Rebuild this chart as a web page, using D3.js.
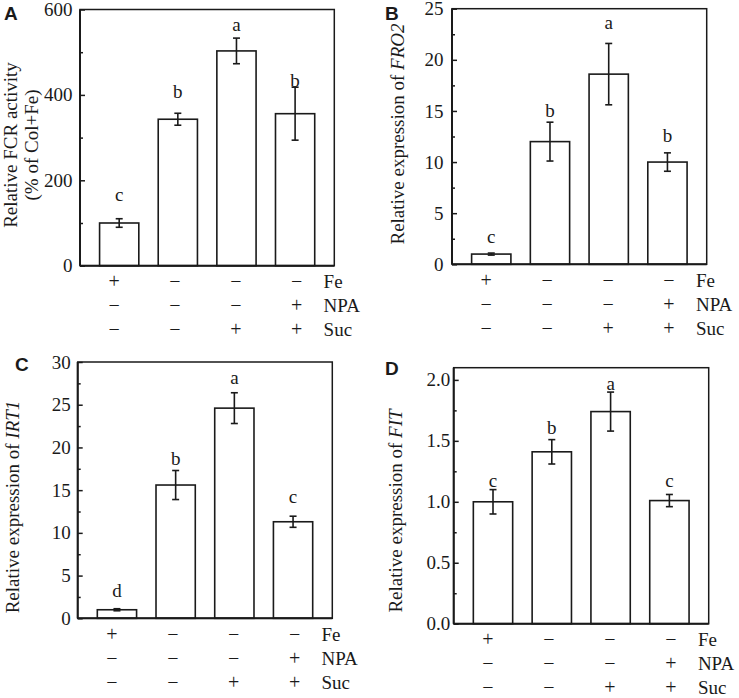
<!DOCTYPE html>
<html>
<head>
<meta charset="utf-8">
<script src="https://cdn.jsdelivr.net/npm/d3@7/dist/d3.min.js"></script>
<style>
  html, body { margin: 0; padding: 0; background: #fff; }
  svg { display: block; }
  text { font-family: "Liberation Serif", "Times New Roman", serif; fill: #1a1a1a; }
  text.tag { font-family: "Liberation Sans", Arial, sans-serif; font-weight: bold; }
</style>
</head>
<body>
<div id="chart"></div>
<script>
// ---------------- DATA ----------------
const groups = ["+Fe", "-Fe", "-Fe+Suc", "-Fe+NPA+Suc"];
const treatmentRows = ["Fe", "NPA", "Suc"];
const feSigns  = ["+", "\u2212", "\u2212", "\u2212"];
const npaSigns = ["\u2212", "\u2212", "\u2212", "+"];
const sucSigns = ["\u2212", "\u2212", "+", "+"];

// A: relative FCR activity (% of Col+Fe)
const fcrMean    = [100, 343, 503, 356];
const fcrErr     = [10, 14, 30, 62];
const fcrLetters = ["c", "b", "a", "b"];
const fcrLetterY = [152, 393, 550, 418];
const fcrTicks   = [0, 200, 400, 600];

// B: relative expression of FRO2
const fro2Mean    = [1.0, 12.0, 18.6, 10.0];
const fro2Err     = [0.1, 1.9, 3.0, 0.9];
const fro2Letters = ["c", "b", "a", "b"];
const fro2LetterY = [2.1, 14.4, 23.0, 12.0];
const fro2Ticks   = [0, 5, 10, 15, 20, 25];

// C: relative expression of IRT1
const irt1Mean    = [1.0, 15.6, 24.6, 11.3];
const irt1Err     = [0.12, 1.7, 1.8, 0.65];
const irt1Letters = ["d", "b", "a", "c"];
const irt1LetterY = [2.46, 17.95, 27.4, 13.46];
const irt1Ticks   = [0, 5, 10, 15, 20, 25, 30];

// D: relative expression of FIT
const fitMean    = [1.0, 1.41, 1.74, 1.01];
const fitErr     = [0.10, 0.10, 0.16, 0.05];
const fitLetters = ["c", "b", "a", "c"];
const fitLetterY = [1.121, 1.558, 1.918, 1.121];
const fitTicks   = [0, 0.5, 1.0, 1.5, 2.0];

// ---------------- LAYOUT ----------------
const W = 739, H = 698;
const ink = "#1a1a1a";

const panels = [
  { tag: "A", mean: fcrMean, err: fcrErr, letters: fcrLetters, letterY: fcrLetterY,
    ticks: fcrTicks, yMax: 600, fmt: d3.format("d"),
    x0: 80, x1: 334.3, y0: 9.5, y1: 265.7, gap: 7.5,
    tagX: 4, tagY: 19.5,
    ylab: [{ parts: [["Relative FCR activity", false]], x: 16.7 },
           { parts: [["(% of Col+Fe)", false]], x: 38.3 }], ylabY: 145 },
  { tag: "B", mean: fro2Mean, err: fro2Err, letters: fro2Letters, letterY: fro2LetterY,
    ticks: fro2Ticks, yMax: 25, fmt: d3.format("d"),
    x0: 452, x1: 706.7, y0: 8.7, y1: 264.3, gap: 8.5,
    tagX: 385, tagY: 19.5,
    ylab: [{ parts: [["Relative expression of ", false], ["FRO2", true]], x: 404 }], ylabY: 134 },
  { tag: "C", mean: irt1Mean, err: irt1Err, letters: irt1Letters, letterY: irt1LetterY,
    ticks: irt1Ticks, yMax: 30, fmt: d3.format("d"),
    x0: 77.7, x1: 332.3, y0: 362, y1: 618.3, gap: 7,
    tagX: 15, tagY: 370.5,
    ylab: [{ parts: [["Relative expression of ", false], ["IRT1", true]], x: 19.3 }], ylabY: 507 },
  { tag: "D", mean: fitMean, err: fitErr, letters: fitLetters, letterY: fitLetterY,
    ticks: fitTicks, yMax: 2.1, fmt: d3.format(".1f"),
    x0: 453.7, x1: 708.7, y0: 367.7, y1: 623.7, gap: 3.5,
    tagX: 385, tagY: 374.5,
    ylab: [{ parts: [["Relative expression of ", false], ["FIT", true]], x: 402.3 }], ylabY: 511 }
];

const svg = d3.select("#chart").append("svg")
  .attr("width", W).attr("height", H)
  .attr("viewBox", `0 0 ${W} ${H}`);
svg.append("rect").attr("width", W).attr("height", H).attr("fill", "#fff");

const signRows = [feSigns, npaSigns, sucSigns];

panels.forEach(p => {
  const g = svg.append("g");
  const x = d3.scaleBand().domain(groups).range([p.x0, p.x1]).paddingInner(0.331).paddingOuter(0.334);
  const y = d3.scaleLinear().domain([0, p.yMax]).range([p.y1, p.y0]);

  // minor ticks (midpoints between labelled ticks)
  const minor = p.ticks.slice(1).map((t, i) => (t + p.ticks[i]) / 2);
  g.append("g").attr("transform", `translate(${p.x0},0)`)
    .call(d3.axisLeft(y).tickValues(minor).tickSize(-3).tickFormat(""))
    .call(s => s.select(".domain").remove())
    .call(s => s.selectAll("line").attr("stroke", ink).attr("stroke-width", 1.5));

  // major ticks
  g.append("g").attr("transform", `translate(${p.x0},0)`)
    .call(d3.axisLeft(y).tickValues(p.ticks).tickSize(-5).tickPadding(p.gap).tickFormat(p.fmt))
    .call(s => s.select(".domain").remove())
    .call(s => s.selectAll("line").attr("stroke", ink).attr("stroke-width", 1.5))
    .call(s => s.selectAll("text").attr("font-size", 19).attr("fill", ink));

  // bars
  g.selectAll("rect.bar").data(groups).join("rect")
    .attr("class", "bar")
    .attr("x", d => x(d))
    .attr("width", x.bandwidth())
    .attr("y", (d, i) => y(p.mean[i]))
    .attr("height", (d, i) => y(0) - y(p.mean[i]))
    .attr("fill", "#fff").attr("stroke", ink).attr("stroke-width", 1.6);

  // error bars
  const cx = d => x(d) + x.bandwidth() / 2;
  const eb = g.selectAll("g.err").data(groups).join("g").attr("class", "err")
    .attr("stroke", ink).attr("stroke-width", 1.6);
  eb.append("line")
    .attr("x1", cx).attr("x2", cx)
    .attr("y1", (d, i) => y(p.mean[i] + p.err[i]))
    .attr("y2", (d, i) => y(p.mean[i] - p.err[i]));
  eb.append("line")
    .attr("x1", d => cx(d) - 3.5).attr("x2", d => cx(d) + 3.5)
    .attr("y1", (d, i) => y(p.mean[i] + p.err[i]))
    .attr("y2", (d, i) => y(p.mean[i] + p.err[i]));
  eb.append("line")
    .attr("x1", d => cx(d) - 3.5).attr("x2", d => cx(d) + 3.5)
    .attr("y1", (d, i) => y(p.mean[i] - p.err[i]))
    .attr("y2", (d, i) => y(p.mean[i] - p.err[i]));

  // significance letters
  g.selectAll("text.sig").data(groups).join("text")
    .attr("class", "sig")
    .attr("x", cx)
    .attr("y", (d, i) => y(p.letterY[i]))
    .attr("text-anchor", "middle")
    .attr("font-size", 19)
    .text((d, i) => p.letters[i]);

  // frame
  g.append("rect")
    .attr("x", p.x0).attr("y", p.y0)
    .attr("width", p.x1 - p.x0).attr("height", p.y1 - p.y0)
    .attr("fill", "none").attr("stroke", ink).attr("stroke-width", 1.5);
  g.append("line").attr("x1", p.x0).attr("x2", p.x0).attr("y1", p.y0).attr("y2", p.y1)
    .attr("stroke", ink).attr("stroke-width", 2);
  g.append("line").attr("x1", p.x0).attr("x2", p.x1).attr("y1", p.y1).attr("y2", p.y1)
    .attr("stroke", ink).attr("stroke-width", 2);

  // treatment sign table
  const c1 = cx(groups[0]), c4 = cx(groups[3]);
  const sx = d3.scalePoint().domain(groups).range([c1 - 5, c4 + 1.5]);
  const rowOffsets = [22.5, 46.5, 70.5];
  signRows.forEach((signs, r) => {
    g.selectAll(null).data(groups).join("text")
      .attr("x", d => sx(d))
      .attr("y", p.y1 + rowOffsets[r])
      .attr("text-anchor", "middle")
      .attr("font-size", 20)
      .text((d, i) => signs[i]);
    g.append("text")
      .attr("x", sx(groups[3]) + 27)
      .attr("y", p.y1 + rowOffsets[r])
      .attr("font-size", 19)
      .text(treatmentRows[r]);
  });

  // y label
  p.ylab.forEach(line => {
    const t = g.append("text")
      .attr("transform", `translate(${line.x},${p.ylabY}) rotate(-90)`)
      .attr("text-anchor", "middle")
      .attr("font-size", 19);
    line.parts.forEach(([s, it]) => {
      t.append("tspan").attr("font-style", it ? "italic" : "normal").text(s);
    });
  });

  // panel tag
  g.append("text")
    .attr("class", "tag")
    .attr("x", p.tagX).attr("y", p.tagY)
    .attr("font-size", 19)
    .text(p.tag);
});
</script>
</body>
</html>
